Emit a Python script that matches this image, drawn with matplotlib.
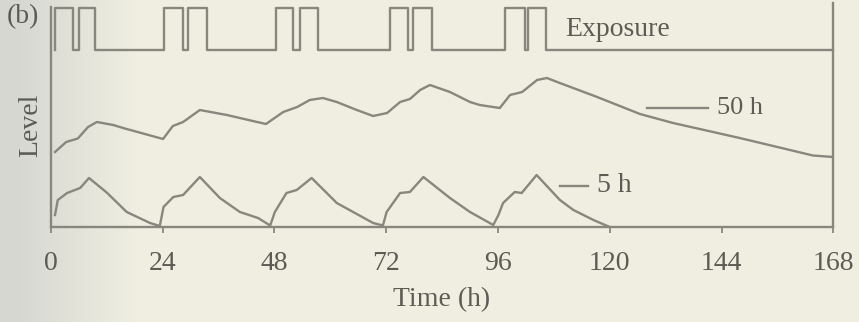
import matplotlib
matplotlib.use("Agg")
import matplotlib.pyplot as plt
import numpy as np

# ---- data (time in h, level in arbitrary units) ----
t_50h = [0.9, 3.3, 5.8, 8.0, 9.9, 13.4, 15.9, 24.1, 26.2, 28.4, 32.0, 37.8, 44.3,
         46.2, 49.9, 52.9, 55.6, 58.4, 61.4, 65.7, 69.2, 72.2, 75.0, 77.1, 79.3,
         81.4, 85.7, 90.0, 92.1, 96.4, 98.6, 101.2, 104.4, 106.5, 109.3, 117.3,
         126.5, 133.6, 147.9, 158.7, 163.6, 168.0]
level_50h = [7.5, 8.5, 8.85, 10.0, 10.5, 10.2, 9.85, 8.8, 10.1, 10.5, 11.7, 11.2, 10.5,
             10.3, 11.5, 12.0, 12.7, 12.9, 12.5, 11.7, 11.1, 11.4, 12.5, 12.8, 13.7,
             14.2, 13.5, 12.5, 12.2, 11.9, 13.2, 13.5, 14.7, 14.9, 14.4, 13.0,
             11.3, 10.4, 8.9, 7.7, 7.15, 7.0]

t_5h = [0.9, 1.5, 3.5, 6.3, 8.2, 12.0, 16.3, 21.3, 23.4, 24.2, 26.3, 28.4, 32.0,
        36.3, 40.6, 44.5, 47.1, 48.1, 50.6, 52.8, 56.0, 61.4, 69.2, 71.3, 72.1,
        75.0, 77.1, 80.0, 85.7, 90.0, 95.0, 96.1, 97.1, 99.6, 101.1, 104.3,
        109.3, 112.2, 116.5, 120.0]
level_5h = [1.2, 2.7, 3.4, 3.9, 4.9, 3.45, 1.5, 0.4, 0.1, 2.0, 3.0, 3.2, 5.0,
            2.9, 1.5, 0.9, 0.15, 1.5, 3.4, 3.7, 4.9, 2.4, 0.4, 0.15, 1.5,
            3.4, 3.5, 5.0, 2.9, 1.5, 0.2, 1.2, 2.4, 3.5, 3.4, 5.2,
            2.7, 1.7, 0.7, 0.0]

# exposure periods: two per working day
exp_start1 = [0.9, 24.3, 48.3, 72.8, 97.5]
exp_end1 = [4.8, 28.4, 52.1, 76.7, 101.8]
exp_start2 = [6.1, 29.5, 53.5, 77.8, 102.5]
exp_end2 = [9.5, 33.5, 57.4, 81.8, 106.3]

xticks = [0, 24, 48, 72, 96, 120, 144, 168]
xtick_labels = ["0", "24", "48", "72", "96", "120", "144", "168"]

# ---- styling ----
W, H = 859, 322
bg = "#efeee2"
line_c = "#87877d"
text_c = "#5c5c55"
FS = 20
plt.rcParams["font.family"] = ["Liberation Serif", "DejaVu Serif"]

fig = plt.figure(figsize=(W / 100, H / 100), dpi=100, facecolor=bg)

# scanned-paper shading (darker at the left edge)
bgax = fig.add_axes([0, 0, 1, 1], zorder=-10)
bgax.axis("off")
gx = np.linspace(0, 1, 400)
shade = np.clip((gx - 0.02) / 0.14, 0, 1)
c_left = np.array([0.84, 0.845, 0.82])
c_right = np.array([0.94, 0.935, 0.885])
img = c_left[None, None, :] * (1 - shade)[None, :, None] + c_right[None, None, :] * shade[None, :, None]
bgax.imshow(img, aspect="auto", extent=[0, 1, 0, 1])

# level axes (pixel frame: left 50.8, right 833.3, top 3, bottom 227)
L, R, T, B = 50.8, 833.3, 3, 227
ax = fig.add_axes([L / W, (H - B) / H, (R - L) / W, (B - T) / H])
ax.set_facecolor("none")
ax.set_xlim(0, 168)
ax.set_ylim(0, 22.4)
for s in ["left", "right", "bottom"]:
    ax.spines[s].set_color(line_c)
    ax.spines[s].set_linewidth(1.7)
ax.spines["top"].set_visible(False)
ax.spines["left"].set_bounds(0, 22.0)

ax.plot(t_50h, level_50h, color=line_c, lw=1.7, solid_joinstyle="round")
ax.plot(t_5h, level_5h, color=line_c, lw=1.7, solid_joinstyle="round")

ax.set_xticks(xticks)
ax.set_xticklabels(xtick_labels, fontsize=FS, color=text_c)
ax.tick_params(axis="x", direction="out", length=4.5, width=1.3, color=line_c, pad=13)
ax.set_yticks([])

ax.set_ylabel("Level", fontsize=FS, color=text_c)
ax.yaxis.set_label_coords((43 - L) / (R - L), (B - 125) / (B - T))
ax.text(0.5, (B - 300) / (B - T), "Time (h)", transform=ax.transAxes,
        ha="center", va="center", fontsize=FS, color=text_c)

# curve labels
ax.plot([128, 141], [11.9, 11.9], color=line_c, lw=1.7)
ax.text(143, 11.9, "50 h", fontsize=FS - 1, color=text_c, va="center", ha="left")
ax.plot([109.3, 115.3], [4.1, 4.1], color=line_c, lw=1.7)
ax.text(117.2, 4.1, "5 h", fontsize=FS, color=text_c, va="center", ha="left")

# exposure axes (pixel frame: top 8, bottom 50)
ET, EB = 8, 50
ex = fig.add_axes([L / W, (H - EB) / H, (R - L) / W, (EB - ET) / H])
ex.set_facecolor("none")
ex.set_xlim(0, 168)
ex.set_ylim(0, 1)
ex.axis("off")
xs, ys = [], []
for s1, e1, s2, e2 in zip(exp_start1, exp_end1, exp_start2, exp_end2):
    xs += [s1, s1, e1, e1, s2, s2, e2, e2]
    ys += [0, 1, 1, 0, 0, 1, 1, 0]
xs.append(168)
ys.append(0)
ex.plot(xs, ys, color=line_c, lw=1.7, clip_on=False)
ex.text(110.4, 0.5, "Exposure", fontsize=FS, color=text_c, va="center", ha="left")

fig.text(7 / W, 1 - 17 / H, "(b)", fontsize=FS, color=text_c, va="center", ha="left")

fig.savefig("out.png", dpi=100, facecolor=bg)
